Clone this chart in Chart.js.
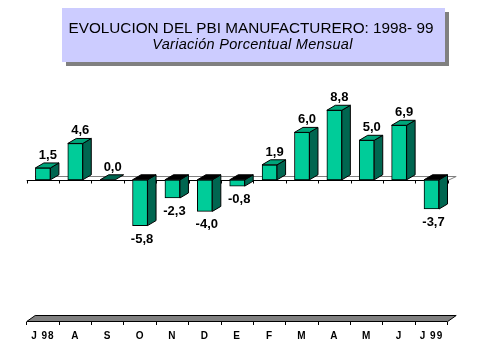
<!DOCTYPE html>
<html>
<head>
<meta charset="utf-8">
<script src="https://cdn.jsdelivr.net/npm/chart.js@4"></script>
<style>
html,body{margin:0;padding:0;background:#fff;}
#wrap{position:relative;width:479px;height:359px;overflow:hidden;}
#chart{position:absolute;left:0;top:0;}
#title{position:absolute;left:62px;top:8px;width:383px;height:54px;background:#CCCCFF;box-shadow:4px 4px 0 #808080;font-family:"Liberation Sans",Arial,sans-serif;color:#000;}
#t1{position:absolute;left:0;right:5px;top:12px;text-align:center;font-size:15.3px;line-height:16px;white-space:nowrap;}
#t2{position:absolute;left:0;right:2px;top:28px;text-align:center;font-size:14.5px;line-height:16px;font-style:italic;letter-spacing:0.3px;white-space:nowrap;}
</style>
</head>
<body>
<div id="wrap">
<canvas id="chart" width="479" height="359"></canvas>
<div id="title"><div id="t1">EVOLUCION DEL PBI MANUFACTURERO: 1998- 99</div><div id="t2">Variación Porcentual Mensual</div></div>
</div>
<script>
const categories = ['J 98','A','S','O','N','D','E','F','M','A','M','J','J 99'];
const values = [1.5, 4.6, 0.0, -5.8, -2.3, -4.0, -0.8, 1.9, 6.0, 8.8, 5.0, 6.9, -3.7];
const valueLabels = values.map(v => v.toFixed(1).replace('.', ','));

const FRONT = '#00CC99', SIDE = '#006650', TOP = '#00A57A';
const DX = 8.5, DY = 5;

const threeD = {
  id: 'threeD',
  beforeDraw(chart) { chart.ctx.letterSpacing = '1px'; },
  beforeDatasetsDraw(chart) {
    const ctx = chart.ctx;
    ctx.letterSpacing = '0px';
    const ca = chart.chartArea;
    const ys = chart.scales.y;
    ctx.save();
    ctx.lineWidth = 1;
    // floor
    const yb = ca.bottom - 0.5;
    ctx.beginPath();
    ctx.moveTo(ca.left, yb);
    ctx.lineTo(ca.left + DX, yb - 6);
    ctx.lineTo(ca.right + DX, yb - 6);
    ctx.lineTo(ca.right, yb);
    ctx.closePath();
    ctx.fillStyle = '#808080';
    ctx.fill();
    ctx.strokeStyle = '#000';
    ctx.stroke();
    // zero plane
    const y0 = Math.round(ys.getPixelForValue(0)) + 0.5;
    ctx.strokeStyle = '#808080';
    ctx.beginPath();
    ctx.moveTo(ca.left + DX, y0 - DY + 1);
    ctx.lineTo(ca.right + DX, y0 - DY + 1);
    ctx.lineTo(ca.right, y0);
    ctx.stroke();
    ctx.strokeStyle = '#000';
    ctx.beginPath();
    ctx.moveTo(ca.left, y0);
    ctx.lineTo(ca.right, y0);
    const n = categories.length;
    const step = (ca.right - ca.left) / n;
    for (let i = 0; i <= n; i++) {
      const tx = Math.round(ca.left + i * step) + 0.5;
      ctx.moveTo(tx, y0);
      ctx.lineTo(tx, y0 + 3);
    }
    ctx.stroke();
    ctx.restore();
  },
  afterDatasetsDraw(chart) {
    const ctx = chart.ctx;
    const meta = chart.getDatasetMeta(0);
    ctx.save();
    ctx.lineWidth = 1;
    ctx.strokeStyle = '#000';
    ctx.lineJoin = 'miter';
    meta.data.forEach((el, i) => {
      const p = el.getProps(['x', 'y', 'base', 'width'], true);
      const l = p.x - p.width / 2, r = p.x + p.width / 2;
      const top = Math.min(p.y, p.base), bot = Math.max(p.y, p.base);
      const v = values[i];
      if (bot - top > 0.5) {
        ctx.beginPath();
        ctx.moveTo(r, top);
        ctx.lineTo(r + DX, top - DY);
        ctx.lineTo(r + DX, bot - DY);
        ctx.lineTo(r, bot);
        ctx.closePath();
        ctx.fillStyle = SIDE;
        ctx.fill();
        ctx.stroke();
      }
      ctx.beginPath();
      ctx.moveTo(l, top);
      ctx.lineTo(l + DX, top - DY);
      ctx.lineTo(r + DX, top - DY);
      ctx.lineTo(r, top);
      ctx.closePath();
      ctx.fillStyle = v < 0 ? '#000' : (v === 0 ? SIDE : TOP);
      ctx.fill();
      ctx.stroke();
      ctx.fillStyle = '#000';
      ctx.font = 'bold 13px "Liberation Sans", Arial, sans-serif';
      ctx.textAlign = 'center';
      ctx.textBaseline = 'alphabetic';
      if (v >= 0) {
        ctx.fillText(valueLabels[i], p.x + 5, top - 9);
      } else {
        ctx.fillText(valueLabels[i], p.x + 2, bot + 17);
      }
    });
    ctx.restore();
  }
};

new Chart(document.getElementById('chart'), {
  type: 'bar',
  data: {
    labels: categories,
    datasets: [{
      data: values,
      backgroundColor: FRONT,
      borderColor: '#000',
      borderWidth: 1,
      borderSkipped: false,
      barThickness: 15
    }]
  },
  options: {
    responsive: false,
    animation: false,
    events: [],
    layout: { padding: { left: 26.7, right: 31.3, top: 85, bottom: 0 } },
    plugins: { legend: { display: false }, tooltip: { enabled: false }, title: { display: false } },
    scales: {
      x: {
        offset: true,
        grid: { display: true, drawOnChartArea: false, drawTicks: true, tickLength: 3, color: '#000', offset: true },
        border: { display: false },
        ticks: { color: '#000', font: { family: '"Liberation Sans", Arial, sans-serif', size: 10, weight: 'bold' }, padding: 5, maxRotation: 0, autoSkip: false },
        afterFit(scale) { scale.height = 37; }
      },
      y: {
        display: false,
        min: -18,
        max: 12
      }
    }
  },
  plugins: [threeD]
});
</script>
</body>
</html>
